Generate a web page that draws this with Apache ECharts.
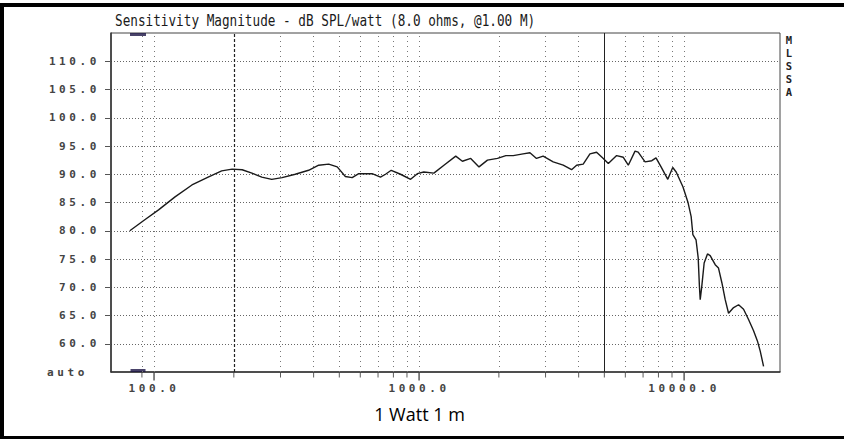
<!DOCTYPE html>
<html><head><meta charset="utf-8">
<script src="https://cdn.jsdelivr.net/npm/echarts@6/dist/echarts.min.js"></script>
<style>
html,body{margin:0;padding:0;background:#fff;}
#chart{width:844px;height:439px;}
#chart text[style*="11px"]{letter-spacing:3.6px;}
</style></head><body><div id="chart"></div>
<script>
// ---- data ----
const freqHz = [81, 92, 104, 120, 139, 160, 180, 197, 215, 234, 255, 278, 304, 341, 383, 418, 456, 491, 527, 559, 592, 665, 715, 747, 785, 851, 929, 985, 1042, 1137, 1241, 1375, 1457, 1566, 1683, 1811, 1976, 2125, 2266, 2468, 2620, 2773, 2938, 3206, 3498, 3761, 3929, 4161, 4412, 4674, 4955, 5175, 5564, 5896, 6157, 6528, 6709, 7123, 7553, 7832, 8185, 8677, 9058, 9332, 9895, 10330, 10630, 10790, 11090, 11300, 11420, 11500, 11660, 11900, 12250, 12540, 13100, 13480, 13880, 14290, 14710, 15370, 16050, 16760, 17500, 18280, 18900, 19370, 19940];
const splDb = [80.0, 81.9, 83.7, 86.0, 88.1, 89.5, 90.6, 90.9, 90.8, 90.2, 89.5, 89.1, 89.4, 90.0, 90.7, 91.6, 91.8, 91.3, 89.6, 89.4, 90.1, 90.1, 89.5, 90.0, 90.7, 90.0, 89.1, 90.1, 90.4, 90.2, 91.6, 93.2, 92.3, 92.8, 91.3, 92.5, 92.8, 93.3, 93.3, 93.6, 93.8, 92.8, 93.2, 92.2, 91.6, 90.8, 91.6, 91.8, 93.6, 93.9, 92.8, 91.9, 93.3, 93.0, 91.6, 94.1, 93.9, 92.2, 92.4, 92.9, 91.3, 89.1, 91.2, 90.4, 87.8, 85.1, 82.5, 79.3, 78.4, 75.2, 70.2, 67.8, 70.2, 74.3, 75.9, 75.6, 74.0, 73.4, 70.8, 67.8, 65.4, 66.4, 66.9, 66.1, 64.3, 62.3, 60.5, 58.7, 56.0];

const yTickValues = [60, 65, 70, 75, 80, 85, 90, 95, 100, 105, 110];
const yAutoValue = 55;
const yAutoLabel = 'auto';
const xMajorFreqs = [100, 1000, 10000];
const xMajorLabels = ['100.0', '1000.0', '10000.0'];
const xMinorFreqs = [90, 200, 300, 400, 500, 600, 700, 800, 900, 2000, 3000, 4000, 5000, 6000, 7000, 8000, 9000];
const dashedCursorFreq = 200;
const solidCursorFreq = 5000;
const markerFreq = 87;
const xRange = [68.8, 23000];
const yRange = [55, 115];
const titleText = 'Sensitivity Magnitude - dB SPL/watt (8.0 ohms, @1.00 M)';
const sideText = 'MLSSA';
const captionText = '1 Watt 1 m';

// ---- chart ----
const chart = echarts.init(document.getElementById('chart'), null, {renderer: 'svg'});
const labelFont = {fontFamily: 'DejaVu Sans Mono', fontSize: 11, fontWeight: 'bold', color: '#444'};

function majorLabel(v) {
  for (let i = 0; i < xMajorFreqs.length; i++) {
    if (Math.abs(Math.log10(v) - Math.log10(xMajorFreqs[i])) < 1e-6) return xMajorLabels[i];
  }
  return '';
}

const gridLineData = xMinorFreqs.concat(xMajorFreqs).map(f => {
  if (f === dashedCursorFreq) return {xAxis: f, lineStyle: {type: [3, 2], color: '#222', width: 1.2}};
  if (f === solidCursorFreq) return {xAxis: f, lineStyle: {type: 'solid', color: '#222', width: 1}};
  return {xAxis: f};
});

chart.setOption({
  animation: false,
  backgroundColor: '#fff',
  grid: {left: 111, right: 64, top: 33, bottom: 67, containLabel: false, show: true, borderColor: '#444', borderWidth: 1},
  xAxis: {
    type: 'log', logBase: 10, min: xRange[0], max: xRange[1],
    axisLine: {show: true, lineStyle: {color: '#333', width: 1.5}},
    axisTick: {show: false},
    splitLine: {show: false},
    axisLabel: Object.assign({margin: 11, formatter: majorLabel}, labelFont)
  },
  yAxis: {
    type: 'value', min: yRange[0], max: yRange[1], interval: 5,
    axisLine: {show: true, lineStyle: {color: '#333', width: 1.5}},
    axisTick: {show: true, length: 6, customValues: yTickValues, lineStyle: {color: '#555'}},
    splitLine: {show: true, lineStyle: {type: [1, 2], color: '#666', width: 1}},
    axisLabel: Object.assign({
      margin: 11,
      formatter: v => v === yAutoValue ? '{auto|' + yAutoLabel + '}' : (yTickValues.indexOf(v) >= 0 ? v.toFixed(1) : ''),
      rich: {auto: {fontFamily: 'DejaVu Sans Mono', fontSize: 11, fontWeight: 'bold', color: '#444', padding: [0, 12, 0, 0]}}
    }, labelFont)
  },
  series: [
    {
      name: 'response', type: 'line', z: 5,
      data: freqHz.map((f, i) => [f, splDb[i]]),
      showSymbol: false, symbol: 'none',
      lineStyle: {color: '#1a1a1a', width: 1.4},
      markLine: {
        silent: true, symbol: ['none', 'none'], label: {show: false},
        lineStyle: {type: [1, 4], color: '#777', width: 1},
        data: gridLineData
      }
    },
    {
      name: 'minorTicks', type: 'scatter', clip: false, silent: true,
      data: xMinorFreqs.map(f => [f, yRange[0]]),
      symbol: 'rect', symbolSize: [1, 5], symbolOffset: [0, 3],
      itemStyle: {color: '#333'}
    },
    {
      name: 'majorTicks', type: 'scatter', clip: false, silent: true,
      data: xMajorFreqs.map(f => [f, yRange[0]]),
      symbol: 'rect', symbolSize: [1.5, 8], symbolOffset: [0, 4.5],
      itemStyle: {color: '#333'}
    },
    {
      name: 'markerTop', type: 'scatter', clip: false, silent: true,
      data: [[markerFreq, yRange[1]]],
      symbol: 'rect', symbolSize: [16, 3], symbolOffset: [0, 1.5],
      itemStyle: {color: '#1c1445'}
    },
    {
      name: 'markerBottom', type: 'scatter', clip: false, silent: true,
      data: [[markerFreq, yRange[0]]],
      symbol: 'rect', symbolSize: [15, 3], symbolOffset: [0, -1.5],
      itemStyle: {color: '#1c1445'}
    }
  ],
  graphic: [
    {type: 'rect', shape: {x: 0, y: 3, width: 844, height: 4}, style: {fill: '#000'}, silent: true},
    {type: 'rect', shape: {x: 0, y: 3, width: 4, height: 436}, style: {fill: '#000'}, silent: true},
    {type: 'rect', shape: {x: 0, y: 436, width: 844, height: 3}, style: {fill: '#000'}, silent: true},
    {type: 'text', x: 115, y: 21, scaleY: 1.2, silent: true,
      style: {text: titleText, font: '12.7px "DejaVu Sans Mono"', fill: '#1a1a1a', align: 'left', verticalAlign: 'middle'}},
    {type: 'text', x: 789, y: 34, silent: true,
      style: {text: sideText.split('').join('\n'), font: 'bold 10.5px "DejaVu Sans Mono"', fill: '#222', align: 'center', verticalAlign: 'top', lineHeight: 12.8}},
    {type: 'text', x: 419.5, y: 414, silent: true,
      style: {text: captionText, font: '18px "Open Sans"', fill: '#000', align: 'center', verticalAlign: 'middle'}}
  ]
});
</script></body></html>
